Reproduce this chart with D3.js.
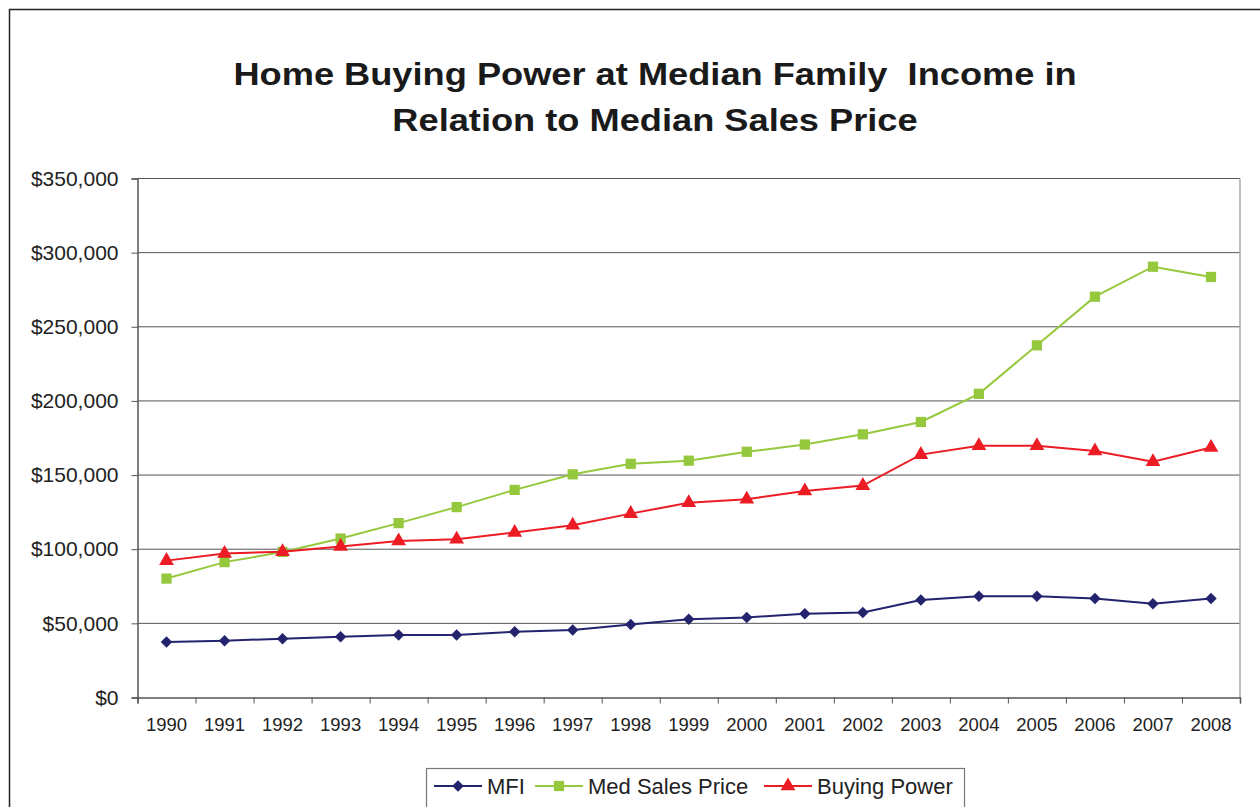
<!DOCTYPE html>
<html>
<head>
<meta charset="utf-8">
<script src="https://cdn.jsdelivr.net/npm/d3@7.9.0/dist/d3.min.js"></script>
<style>
  body { margin: 0; background: #fff; }
  svg { display: block; font-family: "Liberation Sans", Arial, sans-serif; }
</style>
</head>
<body>
<svg id="chart"></svg>
<script>
const years = ["1990","1991","1992","1993","1994","1995","1996","1997","1998","1999",
               "2000","2001","2002","2003","2004","2005","2006","2007","2008"];
const mfi = [37400, 38300, 39700, 40900, 42150, 42150, 44300, 45500, 49200, 52700,
             54000, 56400, 57300, 65800, 68200, 68200, 66700, 63300, 66700];
const medSalesPrice = [80200, 91300, 98100, 107200, 117600, 128400, 140000, 150500, 157600, 159700,
                       165700, 170600, 177500, 185800, 204800, 237500, 270300, 290500, 283600];
const buyingPower = [92300, 97100, 98300, 101900, 105500, 106700, 111300, 116100, 124000, 131300,
                     133700, 139200, 142900, 163800, 169800, 169800, 166200, 159000, 168600];
const yTicks = [0, 50000, 100000, 150000, 200000, 250000, 300000, 350000];
const titleLines = ["Home Buying Power at Median Family\u00a0 Income in", "Relation to Median Sales Price"];

const width = 1260;
const height = 807;

const svg = d3.select("#chart")
  .attr("width", width)
  .attr("height", height);

// outer chart frame (runs off the right and bottom edges)
svg.append("rect")
  .attr("x", 9.5).attr("y", 9.5)
  .attr("width", 1270).attr("height", 820)
  .attr("fill", "#fff")
  .attr("stroke", "#222").attr("stroke-width", 1.5);

const area = { left: 137.5, right: 1240, top: 178.5, bottom: 697.5 };

const x = d3.scaleBand().domain(years).range([area.left, area.right]).padding(0);
const xEdge = d3.scaleLinear().domain([0, years.length]).range([area.left, area.right]);
const y = d3.scaleLinear().domain([0, 350000]).range([area.bottom, area.top]);

// title (the original lettering is a bit wider than Liberation Sans)
svg.append("g")
  .selectAll("text")
  .data(titleLines)
  .join("text")
  .attr("transform", (d, i) => `translate(655,${85 + i * 46}) scale(1.15,1)`)
  .attr("text-anchor", "middle")
  .attr("font-size", 31.5)
  .attr("font-weight", "bold")
  .attr("fill", "#1a1a1a")
  .text(d => d);

// gridlines
svg.append("g")
  .selectAll("line")
  .data(yTicks.filter(d => d > 0))
  .join("line")
  .attr("x1", area.left).attr("x2", area.right)
  .attr("y1", d => y(d)).attr("y2", d => y(d))
  .attr("stroke", "#555").attr("stroke-width", 1);

// right edge of plot area
svg.append("line")
  .attr("x1", area.right).attr("x2", area.right)
  .attr("y1", area.top).attr("y2", area.bottom)
  .attr("stroke", "#aaa").attr("stroke-width", 1.5);

// Y axis
const yAxis = svg.append("g")
  .attr("transform", `translate(${area.left},0)`)
  .call(d3.axisLeft(y).tickValues(yTicks).tickSize(6).tickPadding(13)
    .tickFormat(d => "$" + d3.format(",")(d)));
yAxis.select(".domain").attr("stroke", "#555").attr("stroke-width", 1.5);
yAxis.selectAll(".tick line").attr("stroke", "#555");
yAxis.selectAll("text")
  .attr("font-size", 21)
  .attr("font-family", "Liberation Sans, Arial, sans-serif")
  .attr("fill", "#222");

// X axis: tick marks between categories, labels centred
const xTickAxis = svg.append("g")
  .attr("transform", `translate(0,${area.bottom})`)
  .call(d3.axisBottom(xEdge).tickValues(d3.range(years.length + 1)).tickSize(6).tickFormat(""));
xTickAxis.select(".domain").attr("stroke", "#555").attr("stroke-width", 1.5);
xTickAxis.selectAll(".tick line").attr("stroke", "#555");

const xLabelAxis = svg.append("g")
  .attr("transform", `translate(0,${area.bottom})`)
  .call(d3.axisBottom(x).tickSize(0).tickPadding(20));
xLabelAxis.select(".domain").remove();
xLabelAxis.selectAll("text")
  .attr("font-size", 18.5)
  .attr("font-family", "Liberation Sans, Arial, sans-serif")
  .attr("fill", "#222");

// series
const series = [
  { name: "MFI", values: mfi, color: "#23236e",
    symbol: d3.symbol().type(d3.symbolSquare).size(66), rotate: 45 },
  { name: "Med Sales Price", values: medSalesPrice, color: "#95c83d",
    symbol: d3.symbol().type(d3.symbolSquare).size(105), rotate: 0 },
  { name: "Buying Power", values: buyingPower, color: "#ec1c24",
    symbol: d3.symbol().type(d3.symbolTriangle).size(95), rotate: 0 }
];

const line = d3.line()
  .x((d, i) => x(years[i]) + x.bandwidth() / 2)
  .y(d => y(d));

const seriesG = svg.append("g")
  .selectAll("g")
  .data(series)
  .join("g");

seriesG.append("path")
  .attr("d", d => line(d.values))
  .attr("fill", "none")
  .attr("stroke", d => d.color)
  .attr("stroke-width", 2);

seriesG.each(function (s) {
  d3.select(this).selectAll(".marker")
    .data(s.values)
    .join("path")
    .attr("class", "marker")
    .attr("d", s.symbol())
    .attr("transform", (d, i) =>
      `translate(${x(years[i]) + x.bandwidth() / 2},${y(d)}) rotate(${s.rotate})`)
    .attr("fill", s.color);
});

// legend
const legend = svg.append("g");
legend.append("rect")
  .attr("x", 426.5).attr("y", 768.5)
  .attr("width", 538).attr("height", 70)
  .attr("fill", "#fff")
  .attr("stroke", "#777").attr("stroke-width", 1.2);

const legendX = [434, 535, 764];
const legendItems = legend.selectAll("g")
  .data(series)
  .join("g")
  .attr("transform", (d, i) => `translate(${legendX[i]},786)`);

legendItems.append("line")
  .attr("x1", 0).attr("x2", 48)
  .attr("stroke", d => d.color).attr("stroke-width", 2);

legendItems.append("path")
  .attr("d", d => d.symbol())
  .attr("transform", d => `translate(24,0) rotate(${d.rotate})`)
  .attr("fill", d => d.color);

legendItems.append("text")
  .attr("x", 53)
  .attr("y", 8)
  .attr("font-size", 22)
  .attr("fill", "#222")
  .text(d => d.name);
</script>
</body>
</html>
